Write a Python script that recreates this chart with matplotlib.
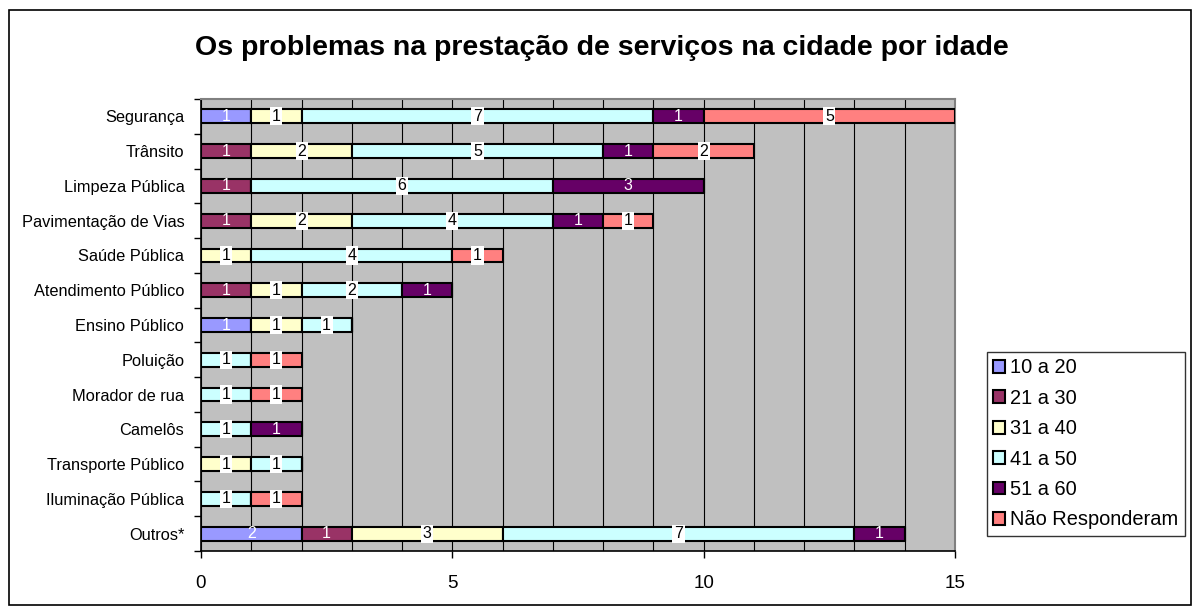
import matplotlib
matplotlib.use("Agg")
import matplotlib.pyplot as plt
from matplotlib.patches import Rectangle
import numpy as np

plt.rcParams['font.family'] = ['Liberation Sans', 'DejaVu Sans']

categories = ["Segurança", "Trânsito", "Limpeza Pública", "Pavimentação de Vias",
              "Saúde Pública", "Atendimento Público", "Ensino Público", "Poluição",
              "Morador de rua", "Camelôs", "Transporte Público", "Iluminação Pública",
              "Outros*"]
series_names = ["10 a 20", "21 a 30", "31 a 40", "41 a 50", "51 a 60", "Não Responderam"]
s10_20 = [1, 0, 0, 0, 0, 0, 1, 0, 0, 0, 0, 0, 2]
s21_30 = [0, 1, 1, 1, 0, 1, 0, 0, 0, 0, 0, 0, 1]
s31_40 = [1, 2, 0, 2, 1, 1, 1, 0, 0, 0, 1, 0, 3]
s41_50 = [7, 5, 6, 4, 4, 2, 1, 1, 1, 1, 1, 1, 7]
s51_60 = [1, 1, 3, 1, 0, 1, 0, 0, 0, 1, 0, 0, 1]
nao_resp = [5, 2, 0, 1, 1, 0, 0, 1, 1, 0, 0, 1, 0]
series = [s10_20, s21_30, s31_40, s41_50, s51_60, nao_resp]
colors = ["#9999FF", "#993366", "#FFFFCC", "#CCFFFF", "#660066", "#FF8080"]
dark = [True, True, False, False, True, False]
xticks = [0, 5, 10, 15]

fig = plt.figure(figsize=(11.95, 6.07), dpi=100)
ax = fig.add_axes([201/1195, 1 - 551/607, (955-201)/1195, (551-99)/607])
ax.set_facecolor("#C0C0C0")

y = np.arange(len(categories))
left = np.zeros(len(categories))
handles = []
for vals, col, name, dk in zip(series, colors, series_names, dark):
    vals = np.array(vals, dtype=float)
    bars = ax.barh(y, vals, left=left, height=0.4, color=col, edgecolor="black",
                   linewidth=1.5, label=name, zorder=3)
    handles.append(bars)
    for yi, (v, l) in enumerate(zip(vals, left)):
        if v > 0:
            if dk:
                ax.text(l + v/2, yi, f"{int(v)}", ha="center", va="center",
                        color="white", fontsize=11.5, zorder=5)
            else:
                ax.text(l + v/2, yi, f"{int(v)}", ha="center", va="center",
                        color="black", fontsize=11.5, zorder=5,
                        bbox=dict(boxstyle="square,pad=0.1", fc="white", ec="none"))
    left = left + vals

ax.set_xlim(0, 15)
ax.set_ylim(len(categories) - 0.5, -0.5)
ax.set_xticks(xticks)
ax.set_xticklabels([str(t) for t in xticks], fontsize=13.5)
ax.set_xticks(np.arange(0, 16), minor=True)
ax.tick_params(axis="x", which="minor", length=0)
ax.tick_params(axis="x", which="major", direction="out", length=5, width=1, pad=12)
ax.grid(axis="x", which="both", color="#000000", linewidth=0.8, zorder=1)
ax.set_yticks(y)
ax.set_yticklabels(categories, fontsize=11.8)
ax.tick_params(axis="y", which="major", length=0, pad=12)
ax.set_yticks(np.arange(-0.5, len(categories) + 0.5, 1), minor=True)
ax.tick_params(axis="y", which="minor", direction="out", length=5, width=1)
for s in ["top", "right"]:
    ax.spines[s].set_color("#808080")
    ax.spines[s].set_linewidth(1.5)
for s in ["left", "bottom"]:
    ax.spines[s].set_color("black")
    ax.spines[s].set_linewidth(1.2)

leg = fig.legend(handles=handles, labels=series_names,
                 loc="upper left", bbox_to_anchor=(987/1195, 1 - 352/607),
                 frameon=True, fancybox=False, edgecolor="black", fontsize=14.4,
                 handlelength=0.6, handleheight=0.6, handletextpad=0.25,
                 labelspacing=0.57, borderpad=0.32, borderaxespad=0)
leg.get_frame().set_linewidth(1.0)

fig.text(602/1195, 1 - 48/607, "Os problemas na prestação de serviços na cidade por idade",
         ha="center", va="center", fontsize=20.5, fontweight="bold")

fig.patches.append(Rectangle((9/1195, 2/607), 1182/1195, (595)/607,
                             transform=fig.transFigure, fill=False,
                             edgecolor="black", linewidth=1.2))

fig.savefig("out.png", dpi=100, facecolor="white")
